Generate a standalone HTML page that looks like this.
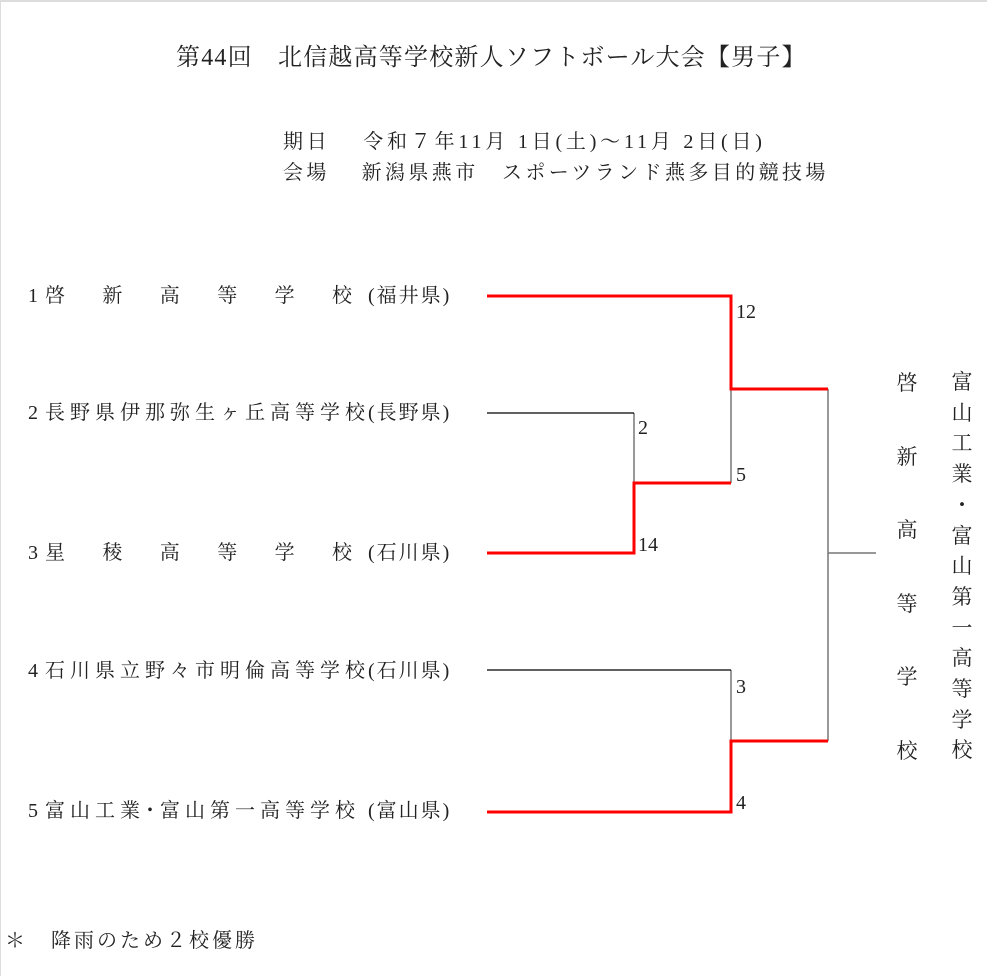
<!DOCTYPE html>
<html><head><meta charset="utf-8"><style>
body{margin:0;width:988px;height:976px;background:#fff;position:relative;overflow:hidden;font-family:"Liberation Serif","Noto Serif CJK SC","Noto Sans CJK JP",serif;color:#222}
.frame{position:absolute;left:0;top:0;width:986px;height:974px;border-top:2px solid #ddd;border-left:1px solid #ddd}
.t{position:absolute;white-space:nowrap;font-size:20px;line-height:22px}
.n{position:absolute;left:28px;font-size:20px;line-height:22px}
.nm{position:absolute;left:45px;width:307px;font-size:20px;line-height:22px;text-align:justify;text-align-last:justify;white-space:nowrap}
.p{position:absolute;left:368px;font-size:20px;line-height:22px;white-space:nowrap;letter-spacing:2px}
.v{position:absolute;font-size:21px;text-align:center;width:26px}
</style></head><body><div class="frame"></div>
<div class="t" style="left:176px;top:45px;font-size:24px;letter-spacing:1.2px;line-height:26px">第44回　北信越高等学校新人ソフトボール大会【男子】</div>
<div class="t" style="left:283px;top:131px;letter-spacing:3.8px">期日　 令和７年11月 1日(土)～11月 2日(日)</div>
<div class="t" style="left:283px;top:162px;letter-spacing:3.4px">会場　 新潟県燕市　スポーツランド燕多目的競技場</div>

<div class="n" style="top:285px">1</div><div class="nm" style="top:285px">啓 新 高 等 学 校</div><div class="p" style="top:285px">(福井県)</div>
<div class="n" style="top:402px">2</div><div class="nm" style="top:402px">長 野 県 伊 那 弥 生 ヶ 丘 高 等 学 校</div><div class="p" style="top:402px">(長野県)</div>
<div class="n" style="top:542px">3</div><div class="nm" style="top:542px">星 稜 高 等 学 校</div><div class="p" style="top:542px">(石川県)</div>
<div class="n" style="top:660px">4</div><div class="nm" style="top:660px">石 川 県 立 野 々 市 明 倫 高 等 学 校</div><div class="p" style="top:660px">(石川県)</div>
<div class="n" style="top:800px">5</div><div class="nm" style="top:800px">富 山 工 業 ･ 富 山 第 一 高 等 学 校</div><div class="p" style="top:800px">(富山県)</div>

<div class="t" style="left:5px;top:930px;letter-spacing:3px">＊　降雨のため２校優勝</div>
<svg style="position:absolute;left:0;top:0" width="988" height="976">
<g stroke="#777" stroke-width="1.5" fill="none">
<line x1="731" y1="389" x2="731" y2="483"/><line x1="634" y1="413" x2="634" y2="483"/>
<line x1="731" y1="670" x2="731" y2="741"/><line x1="828" y1="389" x2="828" y2="741"/>
<line x1="828" y1="553" x2="876" y2="553"/></g>
<g stroke="#000" stroke-width="1.2"><line x1="487" y1="413" x2="634" y2="413"/><line x1="487" y1="670" x2="731" y2="670"/></g>
<g stroke="#f00" stroke-width="3" fill="none">
<polyline points="487,296 731,296 731,389 828,389"/>
<polyline points="487,553 634,553 634,483 731,483"/>
<polyline points="487,812 731,812 731,741 828,741"/></g>
<g font-family="Liberation Serif" font-size="20" fill="#222">
<text x="736" y="318">12</text><text x="638" y="434">2</text><text x="736" y="481">5</text>
<text x="638" y="551">14</text><text x="736" y="693">3</text><text x="736" y="809">4</text></g>
</svg>
<div class="v" style="left:894px;top:347px;line-height:73.5px">啓<br>新<br>高<br>等<br>学<br>校</div>
<div class="v" style="left:949px;top:367px;line-height:30.7px">富<br>山<br>工<br>業<br>・<br>富<br>山<br>第<br>一<br>高<br>等<br>学<br>校</div>
</body></html>
